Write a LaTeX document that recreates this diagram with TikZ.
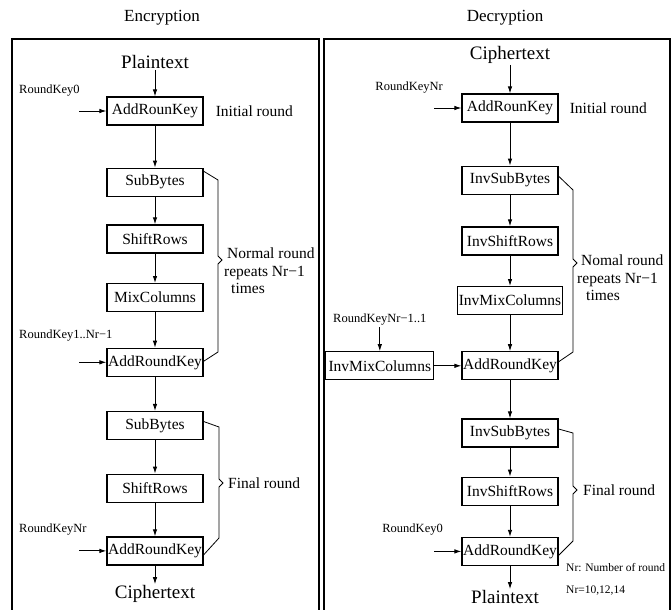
\documentclass[tikz,border=0pt]{standalone}
\usepackage{fontspec}
\setmainfont{Liberation Serif}
\usetikzlibrary{arrows.meta,positioning,calc}

\begin{document}
\begin{tikzpicture}[
    x=1pt, y=1pt,
    >={Latex[length=7pt,width=4.5pt]},
    stepbox/.style={draw, line width=1.2pt, minimum width=96pt,
                    minimum height=28pt, inner sep=1pt,
                    font=\fontsize{15.5}{17}\selectfont},
    io/.style   ={font=\fontsize{19}{21}\selectfont, inner sep=1pt},
    title/.style={font=\fontsize{17}{19}\selectfont},
    keylbl/.style={font=\fontsize{12.5}{14}\selectfont, inner sep=1pt},
    rnd/.style  ={font=\fontsize{15.5}{17.5}\selectfont, inner sep=0pt,
                  align=left},
    note/.style ={font=\fontsize{11.5}{22}\selectfont, inner sep=0pt,
                  align=left},
    arr/.style  ={->, line width=0.9pt},
    brace/.style={line width=0.8pt},
    panel/.style={line width=1.1pt}
]
\useasboundingbox (0,0) rectangle (672,-610);
% --- panels and titles --------------------------------------------------
\node[title] (enc) at (162,-18) {Encryption};
\node[title] (dec) at (505,-18) {Decryption};
\draw[panel] (12,-612) -- (12,-39) -- (319,-39) -- (319,-612);
\draw[panel] (324,-612) -- (324,-39) -- (670,-39) -- (670,-612);
% --- encryption column --------------------------------------------------
\node[io]                          (pt1)  at (155,-62) {Plaintext};
\node[stepbox]                     (ark0) at (155,-111) {AddRounKey};
\node[stepbox, below=42pt of ark0]  (sb1)  {SubBytes};
\node[stepbox, below=27.5pt of sb1] (sr1)  {ShiftRows};
\node[stepbox, below=29.5pt of sr1] (mc1)  {MixColumns};
\node[stepbox, below=35.5pt of mc1] (ark1) {AddRoundKey};
\node[stepbox, below=34pt of ark1]  (sb2)  {SubBytes};
\node[stepbox, below=33.5pt of sb2]  (sr2)  {ShiftRows};
\node[stepbox, below=33.5pt of sr2]  (ark2) {AddRoundKey};
\node[io]                          (ct1)  at (155,-594) {Ciphertext};
% --- encryption keys ----------------------------------------------------
\coordinate[left=27pt of ark0.west] (ek0);
\coordinate[left=27pt of ark1.west] (ek1);
\coordinate[left=27pt of ark2.west] (ek2);
\node[keylbl, anchor=west] (ek0lbl) at (18,-91)  {RoundKey0};
\node[keylbl, anchor=west] (ek1lbl) at (18,-336) {RoundKey1..Nr−1};
\node[keylbl, anchor=west] (ek2lbl) at (18,-530) {RoundKeyNr};
% --- decryption column --------------------------------------------------
\node[io]                           (ct2)  at (510,-55) {Ciphertext};
\node[stepbox]                      (dark0) at (510,-108) {AddRounKey};
\node[stepbox, below=43pt of dark0]   (disb1) {InvSubBytes};
\node[stepbox, below=31.5pt of disb1] (disr1) {InvShiftRows};
\node[stepbox, below=30.5pt of disr1] (dimc1) {InvMixColumns};
\node[stepbox, below=36pt of dimc1]   (dark1) {AddRoundKey};
\node[stepbox, below=38pt of dark1]   (disb2) {InvSubBytes};
\node[stepbox, below=29pt of disb2]   (disr2) {InvShiftRows};
\node[stepbox, below=31pt of disr2]   (dark2) {AddRoundKey};
\node[io]                           (pt2)  at (505,-597) {Plaintext};
\node[stepbox, minimum width=108pt, left=27pt of dark1] (dimc0) {InvMixColumns};
% --- decryption keys ----------------------------------------------------
\coordinate[left=27pt of dark0.west] (dk0);
\coordinate[above=24pt of dimc0.north] (dk1);
\coordinate[left=27pt of dark2.west] (dk2);
\node[keylbl, anchor=east] (dk0lbl) at (444,-88)  {RoundKeyNr};
\node[keylbl, above=1pt of dk1] (dk1lbl) {RoundKeyNr−1..1};
\node[keylbl, anchor=east] (dk2lbl) at (444,-530) {RoundKey0};
% --- round labels -------------------------------------------------------
\node[rnd, anchor=west] (einit) at ([xshift=12pt]ark0.east) {Initial round};
\node[rnd, anchor=west] (dinit) at ([xshift=11pt]dark0.east) {Initial round};
\node[rnd, anchor=west] (enorm) at (224,-271)
    {\hspace{3pt}Normal round\\repeats Nr−1\\\hspace{7pt}times};
\node[rnd, anchor=west] (dnorm) at (577,-278)
    {\hspace{4pt}Nomal round\\repeats Nr−1\\\hspace{9pt}times};
\node[rnd, anchor=west] (efin) at (228,-483) {Final round};
\node[rnd, anchor=west] (dfin) at (583,-490) {Final round};
\node[note, anchor=north west] (nrnote) at (566,-563)
    {Nr: Number of round\\Nr=10,12,14};
% --- arrows -------------------------------------------------------------
\draw[arr] (pt1) -- (ark0);
\draw[arr] (ark0) -- (sb1);
\draw[arr] (sb1) -- (sr1);
\draw[arr] (sr1) -- (mc1);
\draw[arr] (mc1) -- (ark1);
\draw[arr] (ark1) -- (sb2);
\draw[arr] (sb2) -- (sr2);
\draw[arr] (sr2) -- (ark2);
\draw[arr] (ark2) -- (ct1);
\draw[arr] (ek0) -- (ark0);
\draw[arr] (ek1) -- (ark1);
\draw[arr] (ek2) -- (ark2);
\draw[arr] (ct2) -- (dark0);
\draw[arr] (dark0) -- (disb1);
\draw[arr] (disb1) -- (disr1);
\draw[arr] (disr1) -- (dimc1);
\draw[arr] (dimc1) -- (dark1);
\draw[arr] (dark1) -- (disb2);
\draw[arr] (disb2) -- (disr2);
\draw[arr] (disr2) -- (dark2);
\draw[arr] (dark2.south) -- (dark2.south |- pt2.north);
\draw[arr] (dk0) -- (dark0);
\draw[arr] (dk1) -- (dimc0);
\draw[arr] (dk2) -- (dark2);
\draw[arr] (dimc0) -- (dark1);
% --- braces -------------------------------------------------------------
\draw[brace] ([yshift=11pt]sb1.east) -- (218,-180) -- (218,-256)
    -- (222,-260) -- (218,-264) -- (218,-352) -- ([yshift=1pt]ark1.east);
\draw[brace] ([yshift=4pt]sb2.east) -- (219,-427) -- (219,-479)
    -- (223,-483) -- (219,-487) -- (219,-538) -- ([yshift=-4pt]ark2.east);
\draw[brace] ([yshift=4pt]disb1.east) -- (573,-190) -- (573,-259)
    -- (577,-263) -- (573,-267) -- (573,-352) -- ([yshift=4pt]dark1.east);
\draw[brace] ([yshift=4pt]disb2.east) -- (573,-433) -- (573,-486)
    -- (577,-490) -- (573,-494) -- (573,-541) -- ([yshift=-4pt]dark2.east);
\end{tikzpicture}
\end{document}
